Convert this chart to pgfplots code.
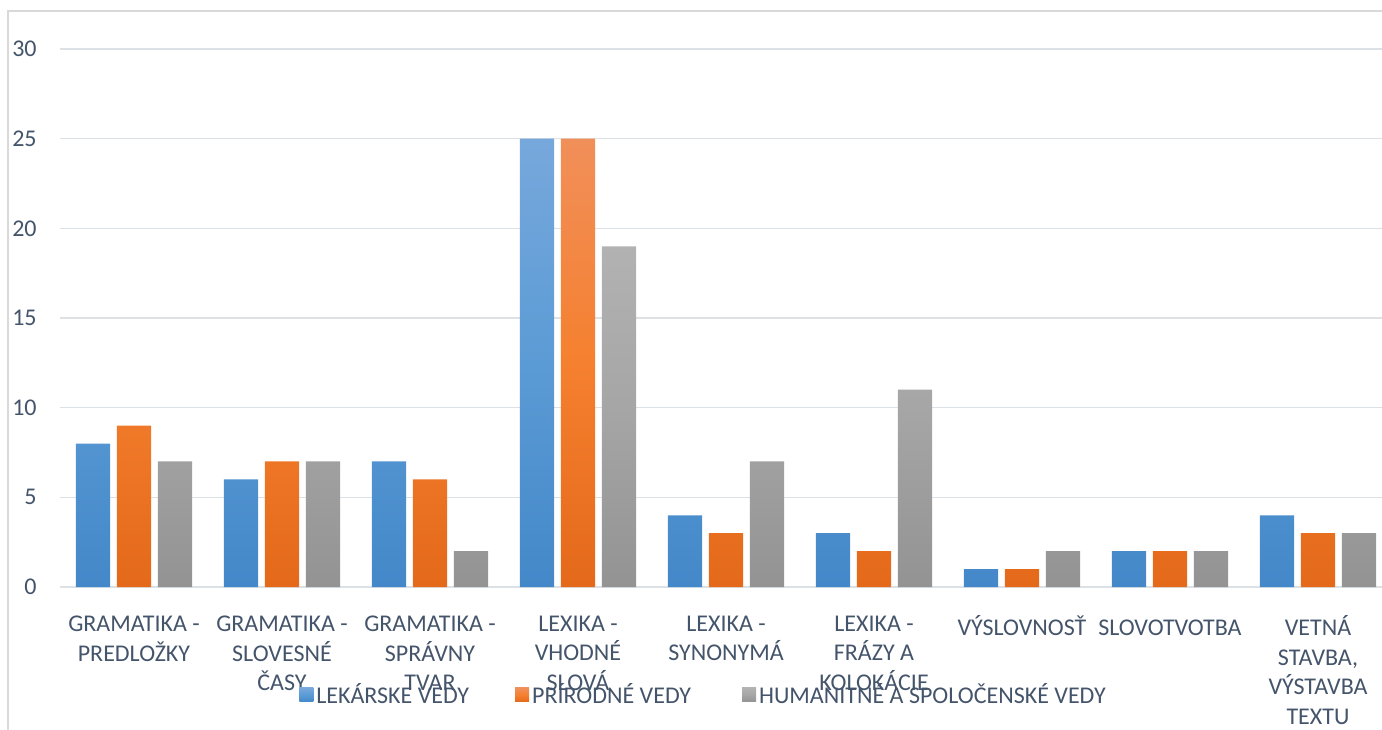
\documentclass[border=0pt]{standalone}
\usepackage{fontspec}
\setmainfont{Carlito}
\usepackage{pgfplots}
\pgfplotsset{compat=1.18}

\definecolor{txt}{HTML}{44546A}
\definecolor{gridc}{HTML}{DCE1E6}
\definecolor{framec}{HTML}{D9D9D9}
\definecolor{blueT}{HTML}{77A8DC}
\definecolor{blueM}{HTML}{5B9BD5}
\definecolor{blueB}{HTML}{4488C9}
\definecolor{orT}{HTML}{F18F5A}
\definecolor{orM}{HTML}{F5802F}
\definecolor{orB}{HTML}{E4691A}
\definecolor{grT}{HTML}{B2B2B2}
\definecolor{grM}{HTML}{A5A5A5}
\definecolor{grB}{HTML}{939393}

\pgfplotsset{
  mybar/.style n args={3}{
    draw=none, top color=#1, bottom color=#3, middle color=#2,
  },
}

\begin{document}
\begin{tikzpicture}[x=1pt,y=1pt]
\draw[framec, line width=0.75pt] (4,-400) -- (4,-5.5) -- (720,-5.5);
\begin{axis}[
  at={(30pt,-293.5pt)}, anchor=south west,
  scale only axis, width=666pt, height=269pt,
  xmin=-0.5, xmax=8.5, ymin=0, ymax=30,
  enlargelimits=false,
  axis line style={draw=none}, tick style={draw=none},
  ymajorgrids, grid style={gridc, line width=0.8pt},
  ytick={0,5,...,30},
  xtick={0,...,8},
  xticklabels={
    {GRAMATIKA -\\PREDLOŽKY},
    {GRAMATIKA -\\SLOVESNÉ\\ČASY},
    {GRAMATIKA -\\SPRÁVNY\\TVAR},
    {LEXIKA -\\VHODNÉ\\SLOVÁ},
    {LEXIKA -\\SYNONYMÁ},
    {LEXIKA -\\FRÁZY A\\KOLOKÁCIE},
    {VÝSLOVNOSŤ},
    {SLOVOTVOTBA},
    {VETNÁ\\STAVBA,\\VÝSTAVBA\\TEXTU}},
  /pgf/number format/assume math mode=true,
  ticklabel style={font=\fontsize{12}{14.75}\selectfont, text=txt},
  xticklabel style={align=center, anchor=north, inner sep=0pt, yshift=-10pt,
    execute at begin node={\vphantom{Ý}}},
  yticklabel style={anchor=east, inner sep=0pt, xshift=-11.5pt},
  ybar, bar width=0.23,
  legend columns=3,
  legend style={at={(0.4835,-0.2007)}, anchor=center, draw=none, fill=none,
    inner sep=0pt, font=\fontsize{12}{14.75}\selectfont, text=txt,
    nodes={inner xsep=1.5pt},
    /tikz/every even column/.append style={column sep=21.5pt},
    /tikz/every odd column/.append style={column sep=0pt}},
  legend image code/.code={\path[#1] (0pt,-3.5pt) rectangle (7pt,3.5pt);},
]
\addplot[mybar={blueT}{blueM}{blueB}, bar shift=-0.277] coordinates {
(0,8) (1,6) (2,7) (3,25) (4,4) (5,3) (6,1) (7,2) (8,4)
};
\addplot[mybar={orT}{orM}{orB}, bar shift=0] coordinates {
(0,9) (1,7) (2,6) (3,25) (4,3) (5,2) (6,1) (7,2) (8,3)
};
\addplot[mybar={grT}{grM}{grB}, bar shift=0.277] coordinates {
(0,7) (1,7) (2,2) (3,19) (4,7) (5,11) (6,2) (7,2) (8,3)
};
\legend{LEKÁRSKE VEDY, PRÍRODNÉ VEDY\rule{2.5pt}{0pt}, HUMANITNÉ A SPOLOČENSKÉ VEDY}
\end{axis}
\pgfresetboundingbox
\useasboundingbox (0,0) rectangle (691,-364.5);
\end{tikzpicture}
\end{document}
